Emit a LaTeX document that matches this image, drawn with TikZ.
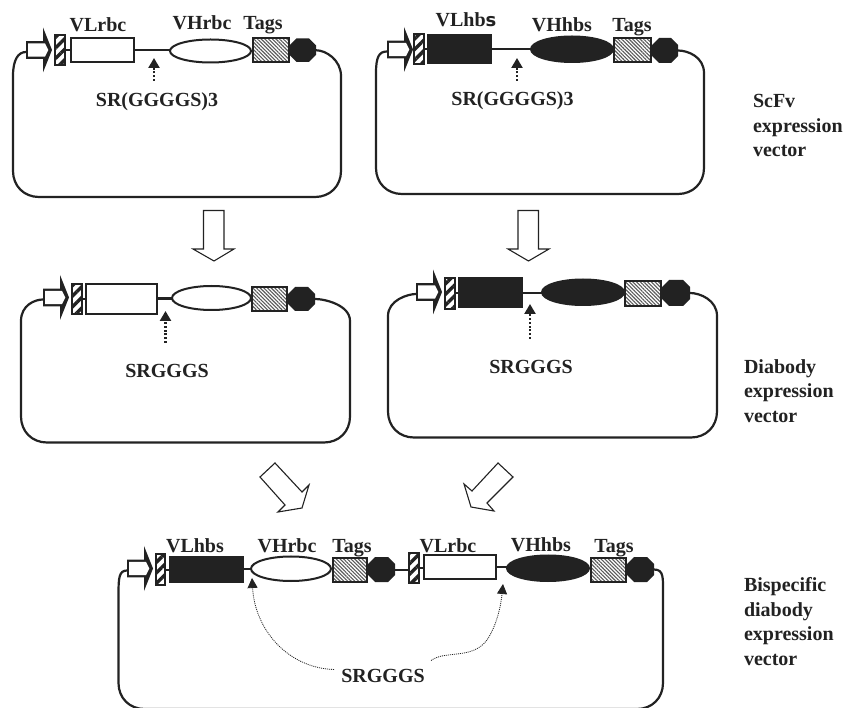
\documentclass[tikz,border=0pt]{standalone}
\usepackage{fontspec}
\setmainfont{Liberation Serif}
\newfontfamily\widesans{DejaVu Sans}
\usetikzlibrary{shapes.geometric,patterns.meta,arrows.meta,calc}
\definecolor{ink}{HTML}{222222}
\tikzset{
  partbase/.style={inner sep=0pt,outer sep=0pt,line width=2pt,draw=ink},
  whitebox/.style={partbase,rectangle,fill=white},
  blackbox/.style={partbase,rectangle,fill=ink},
  whiteoval/.style={partbase,ellipse,fill=white},
  blackoval/.style={partbase,ellipse,fill=ink},
  tagbox/.style={partbase,rectangle,pattern={Lines[angle=-45,distance=2.6pt,line width=1.1pt]},pattern color=black!65},
  stripebox/.style={partbase,rectangle,pattern={Lines[angle=45,distance=7.5pt,line width=3.4pt]},pattern color=ink},
  stopbase/.style={inner sep=0pt,outer sep=0pt,rectangle},
  lbl/.style={inner sep=0pt,outer sep=0pt,font=\bfseries\fontsize{20}{24.5}\selectfont,text=ink,anchor=base},
  sidelbl/.style={inner sep=0pt,outer sep=0pt,font=\bfseries\fontsize{20}{24.5}\selectfont,text=ink,anchor=north west,align=left},
  link/.style={line width=2pt,draw=ink},
  plasmid/.style={line width=2.2pt,draw=ink},
  bigarrow/.style={line width=1.1pt,draw=ink,fill=white,line join=miter},
  linker/.style={line width=2.3pt,draw=ink,dash pattern=on 2pt off 1.8pt,-{Triangle[width=11pt,length=10pt]}},
  curved/.style={line width=.8pt,draw=ink,dash pattern=on 1pt off 1pt,-{Triangle[width=10pt,length=10pt]}},
}
% \gene{style}{name}{x1}{y1}{x2}{y2}
\newcommand\gene[6]{\node[#1,minimum width={(#5-(#3))*1pt},minimum height={(#6-(#4))*1pt}] (#2) at ({(#3+#5)/2},{(#4+#6)/2}) {};}
% \stopper{name}{x1}{y1}{x2}{y2}
\newcommand\stopper[5]{%
  \gene{stopbase}{#1}{#2}{#3}{#4}{#5}
  \fill[ink] ({#2+7},{#3}) -- ({#4-7},{#3}) -- ({#4},{#3+7}) -- ({#4},{#5-7}) -- ({#4-7},{#5}) -- ({#2+7},{#5}) -- ({#2},{#5-7}) -- ({#2},{#3+7}) -- cycle;}
% \promoter{name}{x}{y}
\newcommand\promoter[3]{%
  \begin{scope}[shift={(#2,#3)}]
    \fill[ink] (0,-8.8) -- (17,-8.8) -- (17,-22.5) -- (26,0) -- (17,22.5) -- (17,8.8) -- (0,8.8) -- cycle;
    \fill[white] (2.2,-6.6) -- (19,-6.6) -- (22.3,0) -- (19,6.6) -- (2.2,6.6) -- cycle;
    \coordinate (#1) at (0,2);
  \end{scope}}
% \backbone{start}{end}{left}{right}{line y}{bottom}
\newcommand\backbone[6]{%
  \draw[plasmid] (#1) .. controls +(-8,0) and ({#3},{#5+8}) .. ({#3},{#5+24})
     -- ({#3},{#6-26}) .. controls ({#3},{#6-11}) and ({#3+11},{#6}) .. ({#3+26},{#6})
     -- ({#4-26},{#6}) .. controls ({#4-11},{#6}) and ({#4},{#6-11}) .. ({#4},{#6-26})
     -- ({#4},{#5+24}) .. controls ({#4},{#5+8}) and ($(#2)+(10,0)$) .. (#2);}
% \joinparts{a}{b}: a level connector from a to b
\newcommand\joinparts[2]{\draw[link] (#1.east) -- (#1.east -| #2.west);}
\begin{document}
\begin{tikzpicture}[x=1pt,y=-1pt]
\useasboundingbox (0,0) rectangle (844,708);
\fill[white] (0,0) rectangle (844,708);

% --- top left
\promoter{pa}{26}{50}
\stopper{oa}{289.5}{38.5}{316}{62}
\backbone{pa}{oa.east}{13}{341}{52}{197}
\gene{stripebox}{ha}{55}{35}{65}{65}
\gene{whitebox}{la}{71}{38.5}{134}{62.5}
\gene{whiteoval}{va}{170}{39.5}{251}{62.5}
\gene{tagbox}{ta}{253}{38.5}{289}{62}
\joinparts{ha}{la}
\joinparts{la}{va}
\node[lbl] (t1) at (98,32) {VLrbc};
\node[lbl] (t2) at (202,30) {VHrbc};
\node[lbl] (t3) at (263,30) {Tags};
\node[lbl] (t4) at (157,107) {SR(GGGGS)3};
\coordinate (ca1) at (154,81);
\coordinate (ca2) at (154,58);
\draw[linker] (ca1) -- (ca2);

% --- top right
\promoter{pb}{387}{49.5}
\stopper{ob}{652}{38}{678}{63}
\backbone{pb}{ob.east}{376}{704}{49}{194}
\gene{stripebox}{hb}{414}{34.5}{424}{64}
\gene{blackbox}{lb}{428}{35}{491}{63.5}
\gene{blackoval}{vb}{531}{36.5}{613}{62}
\gene{tagbox}{tb}{614}{38.5}{651}{62}
\joinparts{hb}{lb}
\joinparts{lb}{vb}
\node[lbl] (t5) at (466,27) {VLhb{\widesans\fontsize{18}{20}\selectfont s}};
\node[lbl] (t6) at (562,32) {VHhbs};
\node[lbl] (t7) at (632,32) {Tags};
\node[lbl] (t8) at (512.5,106) {SR(GGGGS)3};
\coordinate (cb1) at (517,81);
\coordinate (cb2) at (517,58);
\draw[linker] (cb1) -- (cb2);

% --- side labels
\node[sidelbl] (s1) at (753,94.5) {ScFv\\expression\\vector};
\node[sidelbl] (s2) at (744,359.5) {Diabody\\expression\\vector};
\node[sidelbl] (s3) at (744,577.5) {Bispecific\\diabody\\expression\\vector};

% --- big arrows
\draw[bigarrow] (203.5,210.5) -- (224,210.5) -- (224,249) -- (234,249) -- (214,261) -- (193,249) -- (203.5,249) -- cycle;
\draw[bigarrow] (518,210.5) -- (538.5,210.5) -- (538.5,249) -- (549,249) -- (528.5,261) -- (508,249) -- (518,249) -- cycle;
\draw[bigarrow] (275,463) -- (260,477) -- (285,505) -- (278,512) -- (302,508) -- (309,485) -- (302,492) -- cycle;
\draw[bigarrow] (498,463) -- (513,477) -- (487,503) -- (494,511) -- (471,507) -- (464,484) -- (472,491) -- cycle;

% --- middle left
\promoter{pc}{43}{297.5}
\stopper{oc}{288}{287}{315}{311}
\backbone{pc}{oc.east}{21}{350}{297}{442.5}
\gene{stripebox}{hc}{72}{284}{82}{314}
\gene{whitebox}{lc}{85.5}{284}{157}{314}
\gene{whiteoval}{vc}{172}{286}{251}{310}
\gene{tagbox}{tc}{252}{287}{287}{311}
\joinparts{hc}{lc}
\draw[link,line width=3pt] (lc.east) -- (lc.east -| vc.west);
\node[lbl] (t9) at (167,378) {SRGGGS};
\coordinate (cc1) at (165.5,343);
\coordinate (cc2) at (165.5,311);
\draw[linker] (cc1) -- (cc2);

% --- middle right
\promoter{pd}{416}{292}
\stopper{od}{662}{280}{690}{306}
\backbone{pd}{od.east}{388}{717}{292}{437.5}
\gene{stripebox}{hd}{444.5}{278}{455}{309}
\gene{blackbox}{ld}{459}{278.5}{522}{307.5}
\gene{blackoval}{vd}{542}{279.5}{624}{305}
\gene{tagbox}{td}{625}{281.5}{661}{306}
\joinparts{hd}{ld}
\joinparts{ld}{vd}
\node[lbl] (t10) at (531,374) {SRGGGS};
\coordinate (cd1) at (530,339);
\coordinate (cd2) at (530,304);
\draw[linker] (cd1) -- (cd2);

% --- bottom
\promoter{pe}{127}{568.5}
\stopper{oe}{368}{557}{395}{582}
\stopper{og}{627}{557}{654}{582}
\backbone{pe}{og.east}{118.5}{663}{570}{709}
\gene{stripebox}{he}{155.5}{554}{165}{585}
\gene{blackbox}{le}{170}{556.5}{243}{581.5}
\gene{whiteoval}{ve}{251}{556.5}{331}{581}
\gene{tagbox}{te}{332.5}{557.5}{367}{582}
\gene{stripebox}{hf}{408.5}{553}{419}{583}
\gene{whitebox}{lf}{424}{555}{496}{579}
\gene{blackoval}{vf}{507}{555.5}{589}{581}
\gene{tagbox}{tg}{590.5}{557.5}{626}{582}
\joinparts{he}{le}
\joinparts{le}{ve}
\joinparts{oe}{hf}
\joinparts{hf}{lf}
\joinparts{lf}{vf}
\node[lbl] (t11) at (195,552) {VLhbs};
\node[lbl] (t12) at (287,553) {VHrbc};
\node[lbl] (t13) at (352,552) {Tags};
\node[lbl] (t14) at (448,552) {VLrbc};
\node[lbl] (t15) at (541,551) {VHhbs};
\node[lbl] (t16) at (614,552) {Tags};
\node[lbl] (t17) at (383,682) {SRGGGS};
\coordinate (ce1) at (334,669.5);
\coordinate (ce2) at (252,578);
\coordinate (cf1) at (431,660.5);
\coordinate (cf2) at (503,584);
\draw[curved] (ce1) .. controls (288,668) and (255,630) .. (ce2);
\draw[curved] (cf1) .. controls (445,650) and (472,660) .. (487,640) .. controls (497,625) and (501,605) .. (cf2);
\end{tikzpicture}
\end{document}
